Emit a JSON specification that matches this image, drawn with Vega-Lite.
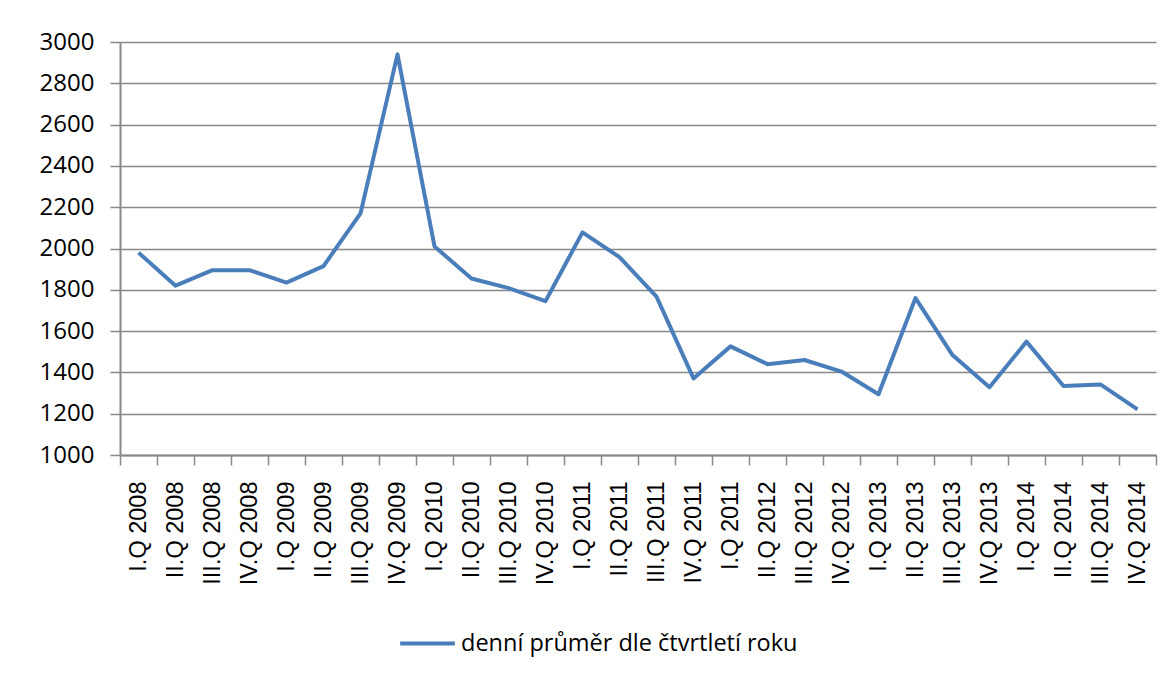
{
  "$schema": "https://vega.github.io/schema/vega-lite/v6.json",
  "width": 1036,
  "height": 413,
  "autosize": {"type": "none"},
  "padding": {"left": 120, "top": 42, "right": 16, "bottom": 224},
  "background": "white",
  "config": {"view": {"stroke": null}},
  "data": {"values": [
    {"q": "I.Q 2008", "v": 1980},
    {"q": "II.Q 2008", "v": 1820},
    {"q": "III.Q 2008", "v": 1895},
    {"q": "IV.Q 2008", "v": 1895},
    {"q": "I.Q 2009", "v": 1835},
    {"q": "II.Q 2009", "v": 1915},
    {"q": "III.Q 2009", "v": 2170},
    {"q": "IV.Q 2009", "v": 2940},
    {"q": "I.Q 2010", "v": 2010},
    {"q": "II.Q 2010", "v": 1855},
    {"q": "III.Q 2010", "v": 1808},
    {"q": "IV.Q 2010", "v": 1745},
    {"q": "I.Q 2011", "v": 2078},
    {"q": "II.Q 2011", "v": 1958},
    {"q": "III.Q 2011", "v": 1767},
    {"q": "IV.Q 2011", "v": 1371},
    {"q": "I.Q 2011 ", "v": 1526},
    {"q": "II.Q 2012", "v": 1440},
    {"q": "III.Q 2012", "v": 1460},
    {"q": "IV.Q 2012", "v": 1404},
    {"q": "I.Q 2013", "v": 1294},
    {"q": "II.Q 2013", "v": 1760},
    {"q": "III.Q 2013", "v": 1484},
    {"q": "IV.Q 2013", "v": 1328},
    {"q": "I.Q 2014", "v": 1549},
    {"q": "II.Q 2014", "v": 1334},
    {"q": "III.Q 2014", "v": 1342},
    {"q": "IV.Q 2014", "v": 1221}
  ]},
  "mark": {"type": "line", "strokeWidth": 4, "strokeJoin": "round"},
  "encoding": {
    "x": {
      "field": "q",
      "type": "nominal",
      "sort": null,
      "bandPosition": 0.5,
      "scale": {"type": "band", "paddingInner": 0, "paddingOuter": 0},
      "axis": {
        "title": null,
        "tickBand": "extent",
        "labelAngle": 270,
        "labelAlign": "right",
        "labelBaseline": "middle",
        "labelFont": "Liberation Sans",
        "labelFontSize": 23.5,
        "labelColor": "#000000",
        "labelPadding": 16,
        "tickSize": 10,
        "tickColor": "#888888",
        "tickWidth": 1.5,
        "domainColor": "#888888",
        "domainWidth": 2,
        "grid": false
      }
    },
    "y": {
      "field": "v",
      "type": "quantitative",
      "scale": {"domain": [1000, 3000], "nice": false, "zero": false},
      "axis": {
        "title": null,
        "format": "d",
        "values": [1000, 1200, 1400, 1600, 1800, 2000, 2200, 2400, 2600, 2800, 3000],
        "labelFont": "Open Sans",
        "labelFontSize": 24,
        "labelColor": "#000000",
        "labelPadding": 16,
        "tickSize": 10,
        "tickColor": "#888888",
        "tickWidth": 1.5,
        "domainColor": "#888888",
        "domainWidth": 2,
        "grid": true,
        "gridColor": "#888888",
        "gridWidth": 1.5
      }
    },
    "color": {
      "datum": "denní průměr dle čtvrtletí roku",
      "scale": {"range": ["#4a7ebb"]},
      "legend": {
        "title": null,
        "orient": "none",
        "legendX": 278,
        "legendY": 572,
        "symbolType": "stroke",
        "symbolSize": 3000,
        "symbolStrokeWidth": 4,
        "labelFont": "Open Sans",
        "labelFontSize": 23.5,
        "labelColor": "#000000",
        "labelLimit": 600,
        "labelOffset": 4
      }
    }
  }
}
